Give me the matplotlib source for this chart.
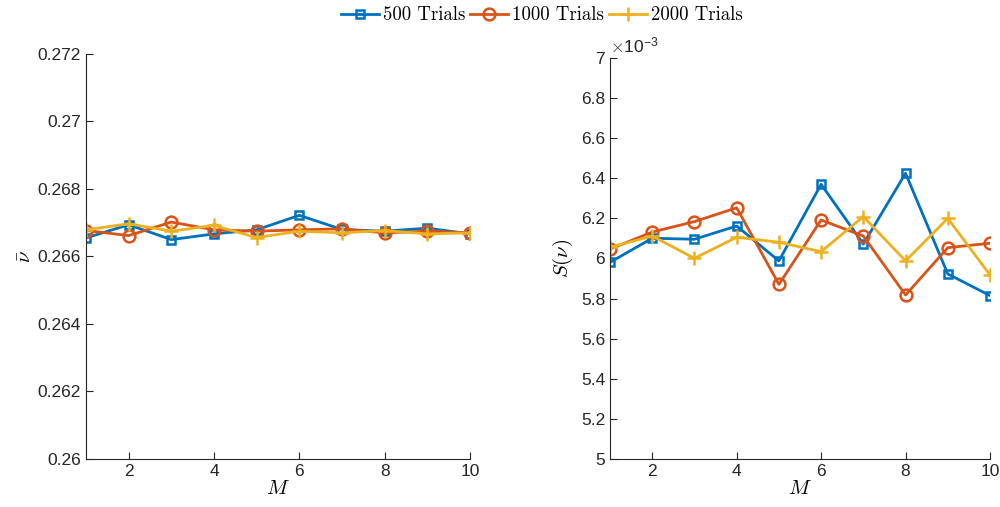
import numpy as np
import matplotlib.pyplot as plt

# data
M = [1, 2, 3, 4, 5, 6, 7, 8, 9, 10]

nu_500 = [0.26655, 0.26694, 0.26650, 0.26667, 0.26679, 0.26722, 0.26680, 0.26675, 0.26684, 0.26667]
nu_1000 = [0.26677, 0.26662, 0.26702, 0.26679, 0.26675, 0.26679, 0.26682, 0.26670, 0.26675, 0.26670]
nu_2000 = [0.26679, 0.26697, 0.26675, 0.26692, 0.26656, 0.26675, 0.26670, 0.26677, 0.26667, 0.26670]

S_500 = [5.981, 6.101, 6.096, 6.162, 5.988, 6.370, 6.072, 6.425, 5.923, 5.815]
S_1000 = [6.047, 6.132, 6.184, 6.253, 5.871, 6.192, 6.112, 5.818, 6.054, 6.076]
S_2000 = [6.056, 6.112, 6.001, 6.106, 6.081, 6.034, 6.209, 5.988, 6.200, 5.918]
S_scale = 1e-3

labels = ['500 Trials', '1000 Trials', '2000 Trials']
colors = ['#0072BD', '#D95319', '#EDB120']
markers = ['s', 'o', '+']
msizes = [6, 8.5, 10]

plt.rcParams['font.family'] = ['Liberation Sans', 'DejaVu Sans']
plt.rcParams['mathtext.fontset'] = 'cm'

fig = plt.figure(figsize=(10, 5.07), dpi=100)
ax1 = fig.add_axes([0.086, 0.0947, 0.384, 0.7988])
ax2 = fig.add_axes([0.610, 0.0947, 0.380, 0.7909])

def style(ax):
    for s in ['top', 'right']:
        ax.spines[s].set_visible(False)
    for s in ['left', 'bottom']:
        ax.spines[s].set_color('#262626')
        ax.spines[s].set_linewidth(0.8)
    ax.tick_params(direction='in', colors='#262626', labelsize=12.5, length=5, width=0.8)
    ax.set_xlim(1, 10)
    ax.set_xticks([2, 4, 6, 8, 10])
    ax.set_xlabel(r'$M$', fontsize=15, labelpad=0)

handles = []
for ys, c, m, ms, lab in zip([nu_500, nu_1000, nu_2000], colors, markers, msizes, labels):
    h, = ax1.plot(M, ys, color=c, marker=m, ms=ms, mfc='none', mew=1.8, lw=2, label=lab)
    handles.append(h)
ax1.set_ylim(0.26, 0.272)
ax1.set_yticks(np.arange(0.26, 0.2721, 0.002))
ax1.set_yticklabels(['0.26', '0.262', '0.264', '0.266', '0.268', '0.27', '0.272'])
ax1.set_ylabel(r'$\bar{\nu}$', fontsize=15, labelpad=2)
style(ax1)

for ys, c, m, ms in zip([S_500, S_1000, S_2000], colors, markers, msizes):
    ax2.plot(M, np.array(ys) * S_scale, color=c, marker=m, ms=ms, mfc='none', mew=1.8, lw=2)
ax2.set_ylim(5e-3, 7e-3)
ax2.set_yticks(np.arange(5.0, 7.01, 0.2) * S_scale)
ax2.set_yticklabels(['5', '5.2', '5.4', '5.6', '5.8', '6', '6.2', '6.4', '6.6', '6.8', '7'])
ax2.set_ylabel(r'$S(\nu)$', fontsize=15, labelpad=4)
style(ax2)
ax2.text(0.0, 1.005, r'$\times$10$^{\mathregular{-3}}$', transform=ax2.transAxes,
         fontsize=12.5, color='#262626', va='bottom', ha='left')

fig.legend(handles=handles, loc='upper center', bbox_to_anchor=(0.542, 1.01), ncol=3,
           frameon=False, prop={'family': 'cmr10', 'size': 13.5}, handlelength=2.0,
           handletextpad=0.25, columnspacing=0.25, borderaxespad=0.2)

fig.savefig('out.png', dpi=100)
